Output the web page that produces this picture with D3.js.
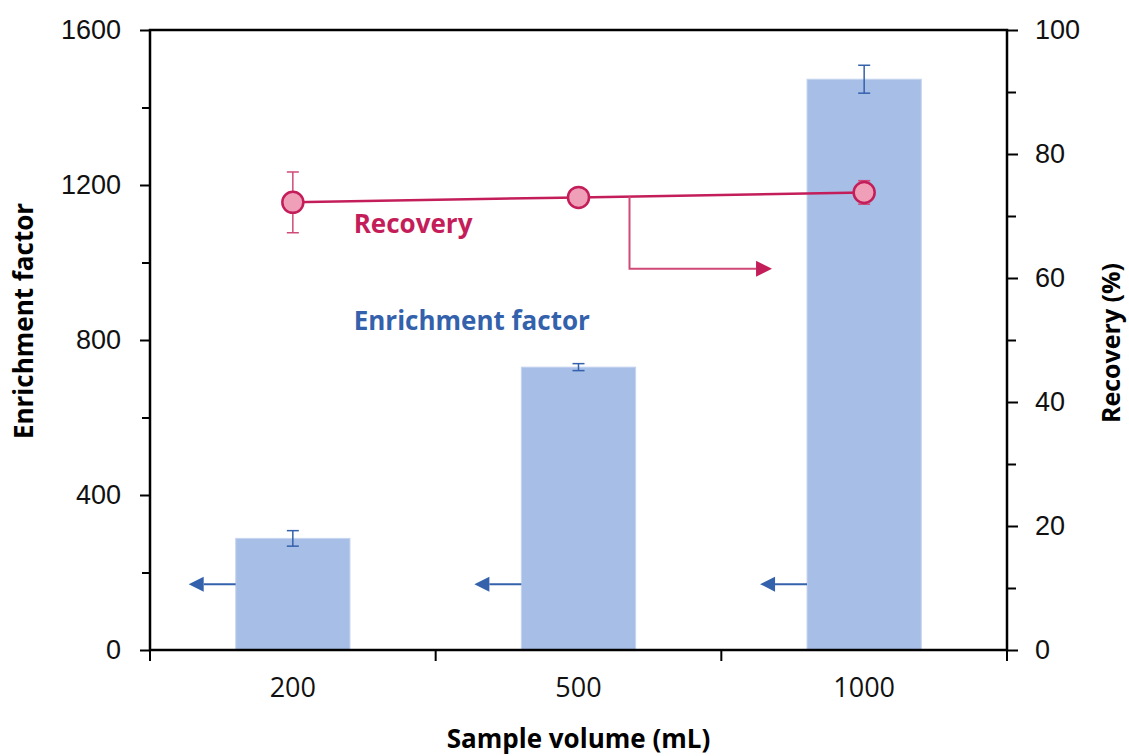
<!DOCTYPE html>
<html>
<head>
<meta charset="utf-8">
<script src="https://cdn.jsdelivr.net/npm/d3@7"></script>
<style>
  html, body { margin: 0; padding: 0; background: #fff; }
  svg { display: block; font-family: "Open Sans", "Noto Sans", sans-serif; }
</style>
</head>
<body>
<svg id="chart" width="1129" height="756"></svg>
<script>
// Sample volumes (mL) and measured results
const volumes = ["200", "500", "1000"];
const enrichment = [288, 730, 1473];
const enrichmentErr = [20, 9, 36];
const recovery = [72.2, 73.0, 73.8];
const recoveryErr = [4.9, 1.0, 1.9];

const leftTicks = [0, 200, 400, 600, 800, 1000, 1200, 1400, 1600];
const rightTicks = [0, 10, 20, 30, 40, 50, 60, 70, 80, 90, 100];

const W = 1129, H = 756;
const margin = { top: 30, right: 122, bottom: 106, left: 150 };
const iw = W - margin.left - margin.right;
const ih = H - margin.top - margin.bottom;

const BLUE = "#3461ac";
const BAR = "#a7bee6";
const RED = "#c41e5a";
const PINK = "#f09fb9";

const svg = d3.select("#chart");
const g = svg.append("g").attr("transform", `translate(${margin.left},${margin.top})`);

const x = d3.scaleBand().domain(volumes).range([0, iw]).paddingInner(0.6).paddingOuter(0.3);
const yL = d3.scaleLinear().domain([0, 1600]).range([ih, 0]);
const yR = d3.scaleLinear().domain([0, 100]).range([ih, 0]);
const cx = v => x(v) + x.bandwidth() / 2;
const step = x.step();

// Bars: enrichment factor
g.selectAll("rect.bar").data(volumes).join("rect")
  .attr("class", "bar")
  .attr("x", d => x(d))
  .attr("width", x.bandwidth())
  .attr("y", (d, i) => yL(enrichment[i]))
  .attr("height", (d, i) => ih - yL(enrichment[i]))
  .attr("fill", BAR)
  .attr("stroke", "#c6d5ef")
  .attr("stroke-width", 1);

// Error bars on the bars
const capW = 6;
volumes.forEach((v, i) => {
  const c = cx(v);
  const y1 = yL(enrichment[i] + enrichmentErr[i]), y0 = yL(enrichment[i] - enrichmentErr[i]);
  const eb = g.append("g").attr("stroke", BLUE).attr("stroke-width", 1.5);
  eb.append("line").attr("x1", c).attr("x2", c).attr("y1", y1).attr("y2", y0);
  eb.append("line").attr("x1", c - capW).attr("x2", c + capW).attr("y1", y1).attr("y2", y1);
  eb.append("line").attr("x1", c - capW).attr("x2", c + capW).attr("y1", y0).attr("y2", y0);
});

// Left-pointing arrows: bars read on the left axis
const arrowEF = 170;
volumes.forEach(v => {
  const x0 = x(v), xa = x0 - 32, tip = x0 - 47, ya = yL(arrowEF);
  g.append("line").attr("x1", x0).attr("x2", xa).attr("y1", ya).attr("y2", ya)
    .attr("stroke", BLUE).attr("stroke-width", 2);
  g.append("path").attr("d", `M${tip},${ya} L${xa},${ya - 7.5} L${xa},${ya + 7.5} Z`).attr("fill", BLUE);
});

// Axes
const axisL = d3.axisLeft(yL).tickValues(leftTicks)
  .tickSize(0).tickFormat(d => d % 400 === 0 ? d : "");
const axisR = d3.axisRight(yR).tickValues(rightTicks)
  .tickSize(0).tickFormat(d => d % 20 === 0 ? d : "");

const gl = g.append("g").call(axisL);
gl.select(".domain").remove();
gl.selectAll(".tick").append("line")
  .attr("x1", 0).attr("x2", d => d % 400 === 0 ? -10 : -8)
  .attr("stroke", "#000").attr("stroke-width", 2);
gl.selectAll(".tick text").attr("x", -29).attr("font-size", 27).attr("fill", "#111");

const gr = g.append("g").attr("transform", `translate(${iw},0)`).call(axisR);
gr.select(".domain").remove();
gr.selectAll(".tick").append("line")
  .attr("x1", 0).attr("x2", d => d % 20 === 0 ? 11 : 9)
  .attr("stroke", "#000").attr("stroke-width", 2);
gr.selectAll(".tick text").attr("x", 28).attr("font-size", 27).attr("fill", "#111");

// Category axis with ticks on band boundaries
const gx = g.append("g").attr("transform", `translate(0,${ih})`);
const bounds = d3.range(volumes.length + 1).map(i => i * step);
gx.selectAll("line.b").data(bounds).join("line")
  .attr("x1", d => d).attr("x2", d => d).attr("y1", 0).attr("y2", 11)
  .attr("stroke", "#000").attr("stroke-width", 2);
gx.selectAll("text").data(volumes).join("text")
  .attr("x", d => cx(d)).attr("y", 40)
  .attr("text-anchor", "middle").attr("dominant-baseline", "middle")
  .attr("font-size", 27).attr("fill", "#111").text(d => d);

// Frame
g.append("rect").attr("x", 0).attr("y", 0).attr("width", iw).attr("height", ih)
  .attr("fill", "none").attr("stroke", "#000").attr("stroke-width", 2.5);

// Recovery line on the right axis
const line = d3.line().x((d, i) => cx(volumes[i])).y(d => yR(d));
g.append("path").datum(recovery).attr("d", line)
  .attr("fill", "none").attr("stroke", RED).attr("stroke-width", 2.5);

volumes.forEach((v, i) => {
  const c = cx(v);
  const y1 = yR(recovery[i] + recoveryErr[i]), y0 = yR(recovery[i] - recoveryErr[i]);
  const eb = g.append("g").attr("stroke", "#cf4a78").attr("stroke-width", 1.5);
  eb.append("line").attr("x1", c).attr("x2", c).attr("y1", y1).attr("y2", y0);
  eb.append("line").attr("x1", c - capW).attr("x2", c + capW).attr("y1", y1).attr("y2", y1);
  eb.append("line").attr("x1", c - capW).attr("x2", c + capW).attr("y1", y0).attr("y2", y0);
});

g.selectAll("circle.rec").data(recovery).join("circle")
  .attr("class", "rec")
  .attr("cx", (d, i) => cx(volumes[i])).attr("cy", d => yR(d))
  .attr("r", 10.5).attr("fill", PINK).attr("stroke", RED).attr("stroke-width", 2.5);

// Right-pointing elbow arrow: line read on the right axis
const elbowX = cx(volumes[1]) + 51;
const elbowTop = yR(recovery[1] + (recovery[2] - recovery[1]) * 51 / step);
const elbowY = yR(61.5);
const elbowEnd = x(volumes[2]) - 51;
g.append("path")
  .attr("d", `M${elbowX},${elbowTop} V${elbowY} H${elbowEnd}`)
  .attr("fill", "none").attr("stroke", "#cf4a78").attr("stroke-width", 2);
g.append("path")
  .attr("d", `M${elbowEnd + 16},${elbowY} L${elbowEnd},${elbowY - 8} L${elbowEnd},${elbowY + 8} Z`)
  .attr("fill", RED);

// Series labels
g.append("text").attr("x", x(volumes[0]) + 118).attr("y", yR(68.4))
  .attr("font-size", 26).attr("font-weight", 700).attr("fill", RED)
  .attr("dominant-baseline", "middle").text("Recovery");
g.append("text").attr("x", x(volumes[0]) + 118).attr("y", yL(843))
  .attr("font-size", 26).attr("font-weight", 700).attr("fill", BLUE)
  .attr("dominant-baseline", "middle").text("Enrichment factor");

// Axis titles
svg.append("text").attr("x", margin.left + iw / 2).attr("y", 741)
  .attr("text-anchor", "middle").attr("dominant-baseline", "middle")
  .attr("font-size", 26).attr("font-weight", 700).text("Sample volume (mL)");
svg.append("text").attr("transform", `translate(26,${margin.top + ih / 2 - 19}) rotate(-90)`)
  .attr("text-anchor", "middle").attr("dominant-baseline", "middle")
  .attr("font-size", 26).attr("font-weight", 700).text("Enrichment factor");
svg.append("text").attr("transform", `translate(1113,343) rotate(-90)`)
  .attr("text-anchor", "middle").attr("dominant-baseline", "middle")
  .attr("font-size", 25).attr("font-weight", 700).text("Recovery (%)");
</script>
</body>
</html>
